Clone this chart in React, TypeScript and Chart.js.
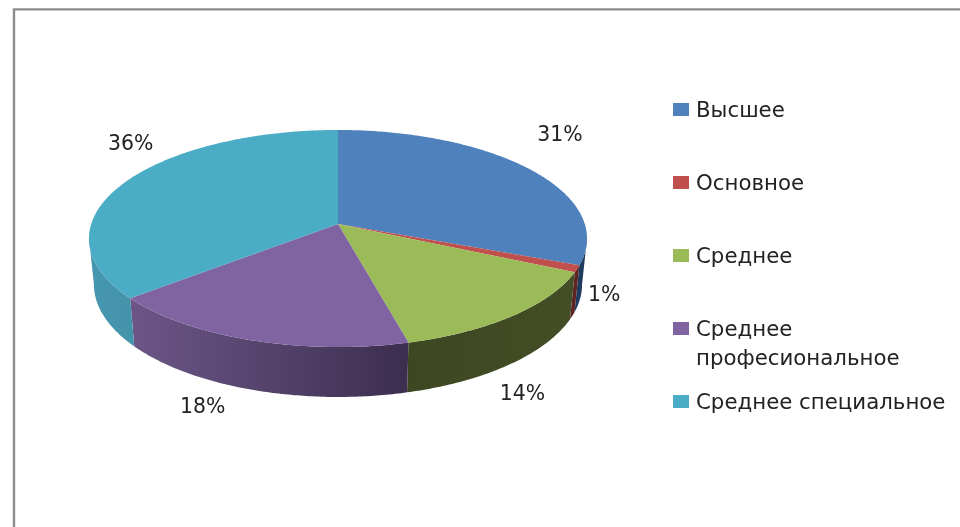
import React, { useEffect, useRef } from "react";
import { Chart, registerables } from "chart.js";

Chart.register(...registerables);

const categories = ["Высшее", "Основное", "Среднее", "Среднее профессиональное", "Среднее специальное"];
const shares = [31, 1, 14, 18, 36];
const legendLines = [["Высшее"], ["Основное"], ["Среднее"], ["Среднее", "професиональное"], ["Среднее специальное"]];
const topColors = ["#4f81bd", "#c0504d", "#9bbb59", "#8064a2", "#4bacc6"];
const wallColors = [
  ["#1f3b60", "#1f3b60"],
  ["#5e2523", "#5e2523"],
  ["#3d4722", "#434e26"],
  ["#6c5687", "#3c2e4f"],
  ["#4596af", "#4394ab"],
];

const LABEL_FONT = '20.4px "DejaVu Sans"';
const LEGEND_FONT = '21.3px "DejaVu Sans"';
const TEXT = "#222222";

// Perspective disc: apex, half-axes and foreshortening of the tilted pie.
const CX = 338, CY = 224, A = 246.8, B = 106.6, K = 0.1336;
const DEPTH = 45.4, LOWER = 0.98;

const project = (ang: number, lower: boolean) => {
  const u = Math.cos(ang), v = Math.sin(ang);
  const s = 1 / (1 - K * v);
  return lower
    ? { x: CX + A * LOWER * u * s, y: CY + (B * LOWER * v + DEPTH) * s }
    : { x: CX + A * u * s, y: CY + B * v * s };
};

const tracePts = (ctx: CanvasRenderingContext2D, a0: number, a1: number, lower: boolean, first: boolean) => {
  const n = Math.max(2, Math.ceil(Math.abs(a1 - a0) * 90));
  for (let i = 0; i <= n; i++) {
    const p = project(a0 + ((a1 - a0) * i) / n, lower);
    if (i === 0 && first) ctx.moveTo(p.x, p.y);
    else ctx.lineTo(p.x, p.y);
  }
};

const pie3d = {
  id: "pie3d",
  beforeDatasetDraw(chart: any) {
    const ctx: CanvasRenderingContext2D = chart.ctx;
    const arcs = chart.getDatasetMeta(0).data;
    // The silhouette of a disc in perspective touches it just below its horizontal diameter.
    const HORIZON_L = Math.asin(K), HORIZON_R = Math.PI - Math.asin(K);

    // side walls
    arcs.forEach((arc: any, i: number) => {
      const a0 = Math.max(arc.startAngle, HORIZON_L);
      const a1 = Math.min(arc.endAngle, HORIZON_R);
      if (a1 <= a0) return;
      const pa = project(a0, false), pb = project(a1, false);
      const g = ctx.createLinearGradient(pb.x, 0, pa.x, 0);
      g.addColorStop(0, wallColors[i][0]);
      g.addColorStop(1, wallColors[i][1]);
      ctx.beginPath();
      tracePts(ctx, a0, a1, false, true);
      tracePts(ctx, a1, a0, true, false);
      ctx.closePath();
      ctx.fillStyle = g;
      ctx.fill();
    });

    // top face
    arcs.forEach((arc: any, i: number) => {
      ctx.beginPath();
      ctx.moveTo(CX, CY);
      tracePts(ctx, arc.startAngle, arc.endAngle, false, false);
      ctx.closePath();
      ctx.fillStyle = topColors[i];
      ctx.fill();
    });
    return false;
  },
};

const labelShift = [
  [32, -34],
  [27, 25],
  [9, 77],
  [-48, 66],
  [4, -38],
];

const decorations = {
  id: "decorations",
  beforeDraw(chart: any) {
    const ctx: CanvasRenderingContext2D = chart.ctx;
    ctx.save();
    ctx.strokeStyle = "#8c8c8c";
    ctx.lineWidth = 2.4;
    ctx.beginPath();
    ctx.moveTo(14, 527);
    ctx.lineTo(14, 9.4);
    ctx.lineTo(960, 9.4);
    ctx.stroke();
    ctx.restore();
  },
  afterDraw(chart: any) {
    const ctx: CanvasRenderingContext2D = chart.ctx;
    const arcs = chart.getDatasetMeta(0).data;
    const values = chart.data.datasets[0].data;
    ctx.save();
    ctx.fillStyle = TEXT;
    ctx.textBaseline = "alphabetic";

    // percentage labels
    ctx.font = LABEL_FONT;
    ctx.textAlign = "center";
    arcs.forEach((arc: any, i: number) => {
      const p = project((arc.startAngle + arc.endAngle) / 2, false);
      ctx.fillText(`${values[i]}%`, p.x + labelShift[i][0], p.y + labelShift[i][1] + 7);
    });

    // legend
    ctx.font = LEGEND_FONT;
    ctx.textAlign = "left";
    legendLines.forEach((lines, i) => {
      const base = 117 + i * 73;
      ctx.fillStyle = topColors[i];
      ctx.fillRect(673, base - 14, 16, 13);
      ctx.fillStyle = TEXT;
      lines.forEach((t, j) => ctx.fillText(t, 696, base + j * 28.5));
    });
    ctx.restore();
  },
};

export default function App() {
  const ref = useRef<HTMLCanvasElement>(null);
  useEffect(() => {
    document.body.style.margin = "0";
    document.body.style.background = "#fff";
    const chart = new Chart(ref.current!, {
      type: "pie",
      data: {
        labels: categories,
        datasets: [{ data: shares, backgroundColor: topColors, borderWidth: 0 }],
      },
      options: {
        responsive: false,
        animation: false,
        plugins: { legend: { display: false }, tooltip: { enabled: false } },
      },
      plugins: [decorations, pie3d],
    } as any);
    return () => chart.destroy();
  }, []);
  return <canvas ref={ref} width={960} height={527} style={{ display: "block" }} />;
}
